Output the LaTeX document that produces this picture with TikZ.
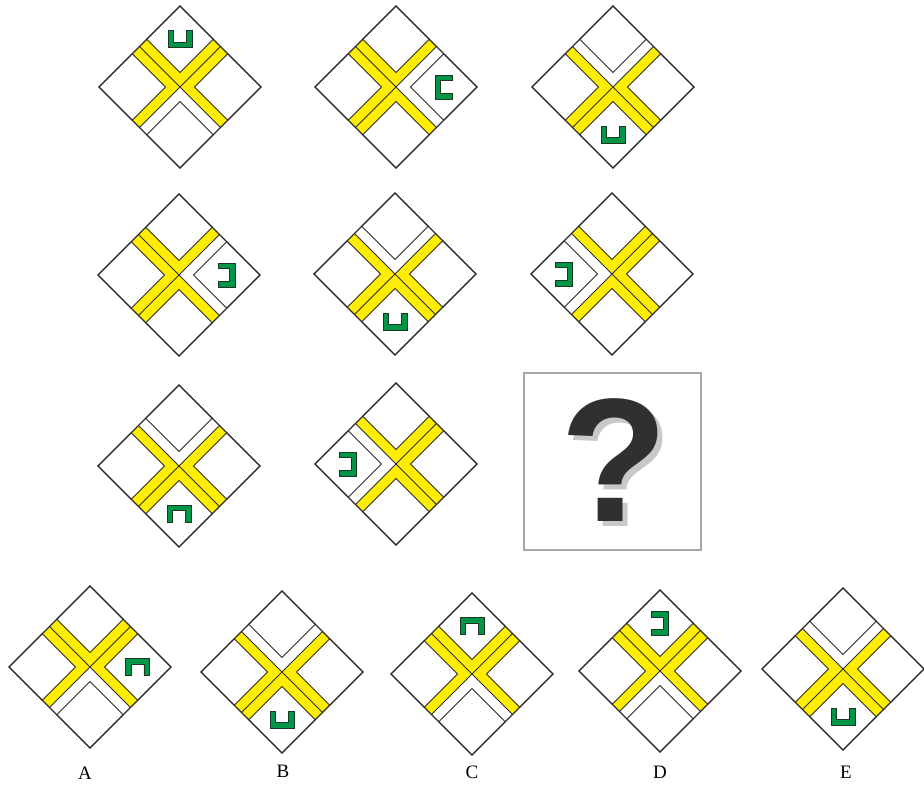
\documentclass[tikz,border=0pt]{standalone}
\usepackage{fontspec}
\setmainfont{Liberation Serif}
\newfontfamily\qmfont{Liberation Sans}
\definecolor{bandyellow}{RGB}{255,238,0}
\definecolor{symgreen}{RGB}{0,150,72}
\definecolor{symedge}{RGB}{25,55,35}
\definecolor{edgegray}{RGB}{45,45,45}
\definecolor{qmark}{RGB}{48,48,48}
\definecolor{qshadow}{RGB}{200,200,200}
\tikzset{
  cellline/.style={draw=edgegray, line width=0.9pt},
  celloutline/.style={draw=edgegray, line width=1.1pt, line join=miter},
  symbolshape/.style={fill=symgreen, draw=symedge, line width=0.7pt},
  answerlabel/.style={font=\fontsize{19}{19}\selectfont, inner sep=0pt},
}
% #1 cx, #2 cy (image px), #3 #4 corridor quadrant signs, #5 #6 symbol quadrant signs, #7 symbol rotation
\newcommand\puzzlecell[7]{%
  \begin{scope}[shift={(#1,-#2)}, rotate=45, scale=57.28]
    \fill[white] (-1,-1) rectangle (1,1);
    \fill[bandyellow] (-0.18,-1) rectangle (0.18,1);
    \fill[bandyellow] (-1,-0.18) rectangle (1,0.18);
    \fill[white] (0,0) -- (0,#4) -- ({0.18*(#3)},#4) -- ({0.18*(#3)},{0.18*(#4)})
      -- (#3,{0.18*(#4)}) -- (#3,0) -- cycle;
    \draw[cellline] (0.18,0.18) rectangle (1,1) (0.18,-0.18) rectangle (1,-1)
      (-0.18,-0.18) rectangle (-1,-1) (-0.18,0.18) rectangle (-1,1);
    \draw[cellline] (0,-1) -- (0,1) (-1,0) -- (1,0);
    \draw[celloutline] (-1,-1) rectangle (1,1);
    \begin{scope}[shift={({0.59*(#5)},{0.59*(#6)})}]
      \begin{scope}[rotate=-45, scale=0.017458]
        \begin{scope}[rotate=#7]
          \filldraw[symbolshape] (-12,-8.5) -- (12,-8.5) -- (12,8.5) -- (6.2,8.5)
            -- (6.2,-3) -- (-6.2,-3) -- (-6.2,8.5) -- (-12,8.5) -- cycle;
        \end{scope}
      \end{scope}
    \end{scope}
  \end{scope}}
\begin{document}
\begin{tikzpicture}[x=1pt, y=1pt]
\fill[white] (0,0) rectangle (924,-787);
\useasboundingbox (0,0) rectangle (924,-787);
% row 1
\puzzlecell{180}{87}{-1}{-1}{1}{1}{0}
\puzzlecell{396}{87}{1}{-1}{1}{-1}{-90}
\puzzlecell{613}{87}{1}{1}{-1}{-1}{0}
% row 2
\puzzlecell{179}{275}{1}{-1}{1}{-1}{90}
\puzzlecell{395}{274}{1}{1}{-1}{-1}{0}
\puzzlecell{612}{274}{-1}{1}{-1}{1}{90}
% row 3
\puzzlecell{179}{466}{1}{1}{-1}{-1}{180}
\puzzlecell{396}{464}{-1}{1}{-1}{1}{90}
% question box
\draw[draw=gray!70, line width=2.2pt, fill=white] (524,-373) rectangle (701,-550);
\node[inner sep=0pt] (qm) at (614,-463)
  {\qmfont\bfseries\fontsize{176}{176}\selectfont
   \rlap{\kern5pt\raisebox{-5pt}{\color{qshadow}?}}\color{qmark}?};
% answers
\puzzlecell{90}{667}{-1}{-1}{1}{-1}{180}
\puzzlecell{282}{672}{1}{1}{-1}{-1}{0}
\puzzlecell{472}{674}{-1}{-1}{1}{1}{180}
\puzzlecell{660}{671}{-1}{-1}{1}{1}{90}
\puzzlecell{843}{669}{1}{1}{-1}{-1}{0}
\node[answerlabel] (labA) at (85,-773) {A};
\node[answerlabel] (labB) at (283,-771) {B};
\node[answerlabel] (labC) at (472,-772) {C};
\node[answerlabel] (labD) at (660,-772) {D};
\node[answerlabel] (labE) at (846,-772) {E};
\end{tikzpicture}
\end{document}
